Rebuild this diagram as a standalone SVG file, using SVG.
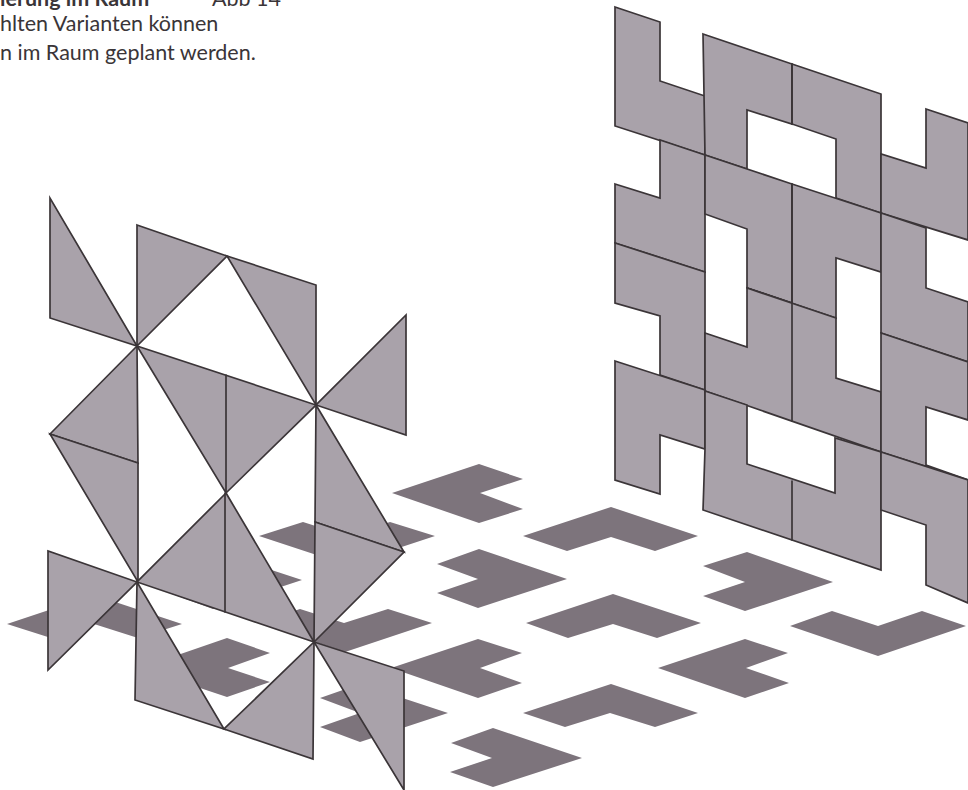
<svg xmlns="http://www.w3.org/2000/svg" width="968" height="790" viewBox="0 0 968 790">
<style>
.f{fill:#7d747c;stroke:none}
.p{fill:#a9a2aa;stroke:none}
.o{fill:none;stroke:#3b3538;stroke-width:1.7;stroke-linejoin:miter;stroke-linecap:round}
text{font-family:"Lato","Liberation Sans",sans-serif;font-size:21.5px;fill:#3a3538}
</style>
<rect width="968" height="790" fill="#fff"/>
<g id="floor">
<polygon class="f" points="392,493 479,464 523,479 480,493 523,509 479,523"/>
<polygon class="f" points="523,536 611,507 698,536 655,551 611,537 567,551"/>
<polygon class="f" points="437,564 479,549 567,579 478,608 437,593 478,579"/>
<polygon class="f" points="526,623 613,594 701,623 657,638 613,624 568,638"/>
<polygon class="f" points="703,566 747,552 833,582 745,611 703,596 745,582"/>
<polygon class="f" points="790,626 832,611 878,626 922,611 966,626 878,656"/>
<polygon class="f" points="658,668 745,639 788,653 746,668 789,683 745,698"/>
<polygon class="f" points="523,713 611,684 698,713 655,727 610,713 565,727"/>
<polygon class="f" points="451,743 493,728 582,758 493,787 450,772 492,758"/>
<polygon class="f" points="391,668 478,639 522,653 480,668 522,683 478,698"/>
<polygon class="f" points="259,536 303,522 347,536 390,522 435,536 347,565"/>
<polygon class="f" points="172,565 214,551 302,580 213,609 172,594 213,580"/>
<polygon class="f" points="258,623 300,609 344,623 388,609 432,623 345,652"/>
<polygon class="f" points="7,624 94,595 182,624 138,638 94,624 51,638"/>
<polygon class="f" points="140,668 227,638 270,653 228,668 270,682 227,697"/>
<polygon class="f" points="320,698 360,684 448,713 360,742 320,727 360,713"/>
</g>
<g id="wall-left">
<g class="o" style="fill:#a9a2aa">
<polygon points="50,198 50,318 137,346"/>
<polygon points="137,225 227,256 137,346"/>
<polygon points="227,256 316,285 316,405"/>
<polygon points="406,315 406,435 316,405"/>
<polygon points="137,346 50,434 138,463"/>
<polygon points="50,434 138,463 138,582"/>
<polygon points="137,346 316,405 226,493"/>
<polygon points="316,405 404,552 315,522"/>
<polygon points="315,522 404,552 314,642"/>
<polygon points="226,493 137,582 314,642"/>
<polygon points="48,551 48,670 137,582"/>
<polygon points="137,582 135,700 224,729"/>
<polygon points="224,729 313,759 314,642"/>
<polygon points="314,642 404,671 404,790"/>
</g>
<path class="o" d="M226,375V493M225,493V612"/>
</g>
<g id="wall-right">
<g class="o" style="fill:#a9a2aa">
<polygon points="615,7 660,22 660,81 705,96 705,155 615,126"/>
<polygon points="703,34 792,64 792,124 747,110 747,169 705,155"/>
<polygon points="792,64 881,94 881,213 836,198 836,139 792,124"/>
<polygon points="926,109 968,123 968,240 881,213 881,154 926,168"/>
<polygon points="615,184 660,198 660,140 705,155 705,272 615,243"/>
<polygon points="705,155 792,184 792,303 747,288 747,229 705,214"/>
<polygon points="792,184 881,213 881,272 836,258 836,318 747,288 792,303"/>
<polygon points="615,243 705,272 705,390 660,375 660,316 615,303"/>
<polygon points="705,333 747,347 747,288 836,318 836,378 881,392 881,452 705,391"/>
<polygon points="881,213 926,228 926,288 968,302 968,362 881,333"/>
<polygon points="881,333 968,362 968,420 926,407 926,465 968,480 968,480 881,452"/>
<polygon points="615,361 705,390 705,449 660,435 660,494 615,480"/>
<polygon points="705,391 747,405 747,464 835,493 835,438 881,452 881,570 703,510 705,449"/>
<polygon points="881,452 968,480 968,603 926,585 926,525 881,510"/>
</g>
<path class="o" d="M792,64V124M792,184V303M792,303V421M792,481V540"/>
</g>
<g id="caption">
<text x="0" y="6" font-weight="700" style="font-weight:700">ierung im Raum</text>
<text x="212" y="6">Abb 14</text>
<text x="0" y="31">hlten Varianten können</text>
<text x="0" y="60">n im Raum geplant werden.</text>
</g>
</svg>
